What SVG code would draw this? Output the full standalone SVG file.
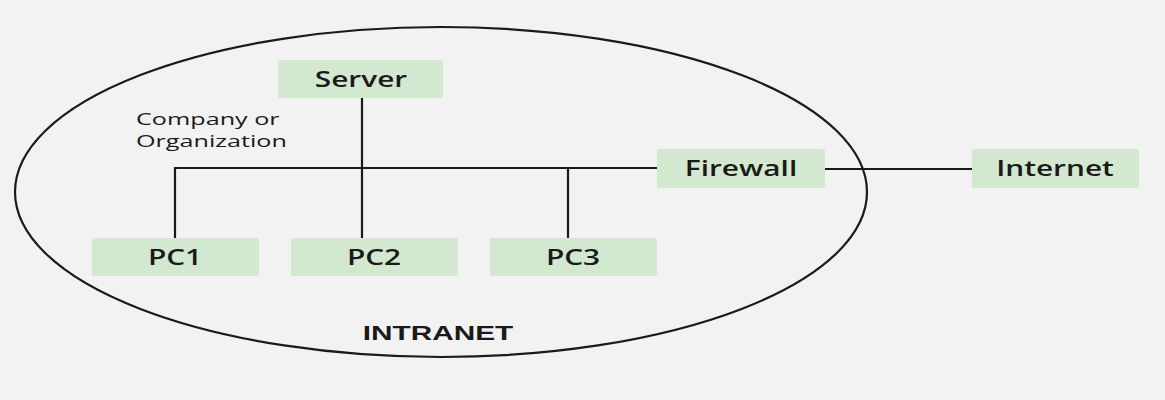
<svg xmlns="http://www.w3.org/2000/svg" width="1165" height="400" viewBox="0 0 1165 400">
<style>
.box{fill:#d3e9cf;}
.lbl{font-family:"Open Sans","Noto Sans",sans-serif;font-weight:600;font-size:21px;fill:#1a1a1a;text-anchor:middle;dominant-baseline:central;}
.note{font-family:"Open Sans","Noto Sans",sans-serif;font-size:17px;fill:#1a1a1a;}
.line{stroke:#1a1a1a;stroke-width:2.2;fill:none;}
</style>
<rect width="1165" height="400" fill="#f2f2f2"/>
<ellipse cx="441" cy="192" rx="426" ry="165" class="line"/>
<g id="connectors">
<path class="line" d="M175 238 V168 H657"/>
<path class="line" d="M362 98 V238"/>
<path class="line" d="M568 168 V238"/>
<path class="line" d="M825 169 H972"/>
</g>
<g id="server"><rect class="box" x="278" y="60" width="165" height="38" rx="2"/><text class="lbl" transform="translate(361 79) scale(1.42 1)">Server</text></g>
<g id="firewall"><rect class="box" x="657" y="149" width="168" height="39" rx="2"/><text class="lbl" transform="translate(741 168) scale(1.42 1)">Firewall</text></g>
<g id="internet"><rect class="box" x="972" y="149" width="167" height="39" rx="2"/><text class="lbl" transform="translate(1055 168) scale(1.42 1)">Internet</text></g>
<g id="pc1"><rect class="box" x="92" y="238" width="167" height="38" rx="2"/><text class="lbl" transform="translate(175 257) scale(1.42 1)">PC1</text></g>
<g id="pc2"><rect class="box" x="291" y="238" width="167" height="38" rx="2"/><text class="lbl" transform="translate(374 257) scale(1.42 1)">PC2</text></g>
<g id="pc3"><rect class="box" x="490" y="238" width="167" height="38" rx="2"/><text class="lbl" transform="translate(573 257) scale(1.42 1)">PC3</text></g>
<g id="company-label"><text class="note" transform="translate(136 125) scale(1.48 1)">Company or</text><text class="note" transform="translate(136 147) scale(1.48 1)">Organization</text></g>
<g id="intranet-label"><text transform="translate(438 340) scale(1.42 1)" style="font-family:'Liberation Sans',Arial,sans-serif;font-weight:bold;font-size:21px;fill:#1a1a1a;text-anchor:middle;">INTRANET</text></g>
</svg>
